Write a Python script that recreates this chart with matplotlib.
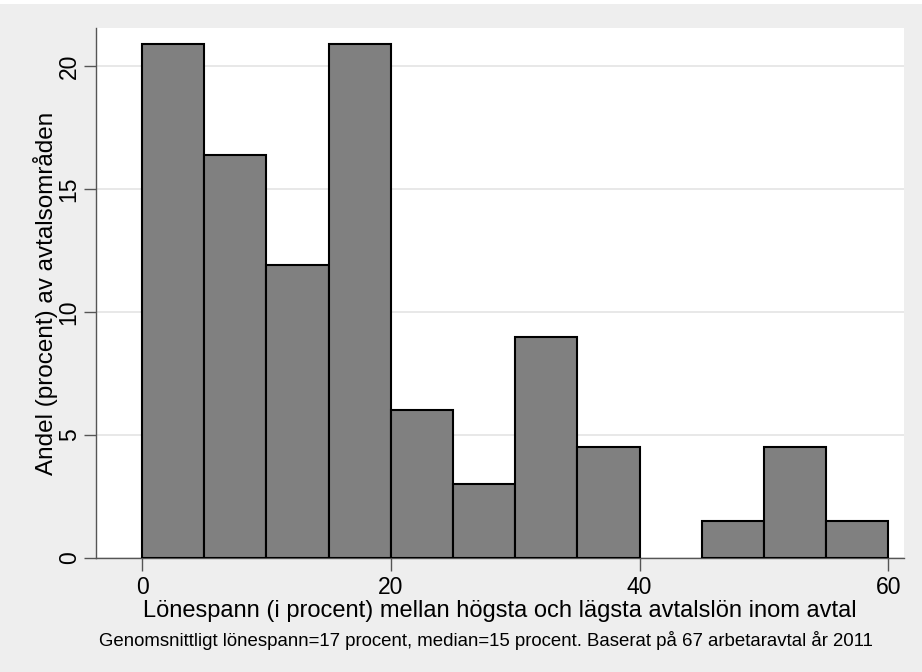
import matplotlib.pyplot as plt

# histogram bins (lönespann, procent) and share of agreements in each bin
bin_edges = [0, 5, 10, 15, 20, 25, 30, 35, 40, 45, 50, 55, 60]
andel = [20.9, 16.4, 11.9, 20.9, 6.0, 3.0, 9.0, 4.5, 0.0, 1.5, 4.5, 1.5]
x_ticks = [0, 20, 40, 60]
y_ticks = [0, 5, 10, 15, 20]

plt.rcParams['font.family'] = ['Liberation Sans', 'DejaVu Sans']

bg = '#EEEEEE'
fig = plt.figure(figsize=(9.22, 6.72), dpi=100, facecolor=bg)
# thin white strip along the top edge
fig.patches.append(plt.Rectangle((0, 1 - 4 / 672), 1, 4 / 672, transform=fig.transFigure,
                                 facecolor='white', edgecolor='none'))
ax = fig.add_axes([96 / 922, 1 - 558 / 672, 808 / 922, 530 / 672])
ax.set_facecolor('white')

n, b, patches = ax.hist(bin_edges[:-1], bins=bin_edges, weights=andel,
                        color='#808080', edgecolor='black', linewidth=1.5, zorder=3)
for p, h in zip(patches, andel):
    if h == 0:
        p.set_visible(False)

ax.set_xlim(-3.7, 61.25)
ax.set_ylim(0, 21.55)
ax.set_xticks(x_ticks)
ax.set_yticks(y_ticks)
ax.set_yticklabels([str(t) for t in y_ticks], rotation=90, va='center')
ax.tick_params(axis='both', labelsize=16.5, length=9, width=1, color='#555555')
ax.tick_params(axis='x', pad=4)
ax.tick_params(axis='y', pad=2)
ax.grid(axis='y', color='#E4E4E4', linewidth=1.2, zorder=0)

for s in ['top', 'right']:
    ax.spines[s].set_visible(False)
for s in ['left', 'bottom']:
    ax.spines[s].set_color('#555555')
    ax.spines[s].set_linewidth(1)

ax.set_xlabel('Lönespann (i procent) mellan högsta och lägsta avtalslön inom avtal',
              fontsize=17, labelpad=1)
ax.set_ylabel('Andel (procent) av avtalsområden', fontsize=17.5, va='center')
ax.yaxis.set_label_coords(-51 / 808, 0.5)

fig.text(486 / 922, 1 - 640 / 672,
         'Genomsnittligt lönespann=17 procent, median=15 procent. Baserat på 67 arbetaravtal år 2011',
         ha='center', va='center', fontsize=13.4)

fig.savefig('out.png', dpi=100, facecolor=bg)
